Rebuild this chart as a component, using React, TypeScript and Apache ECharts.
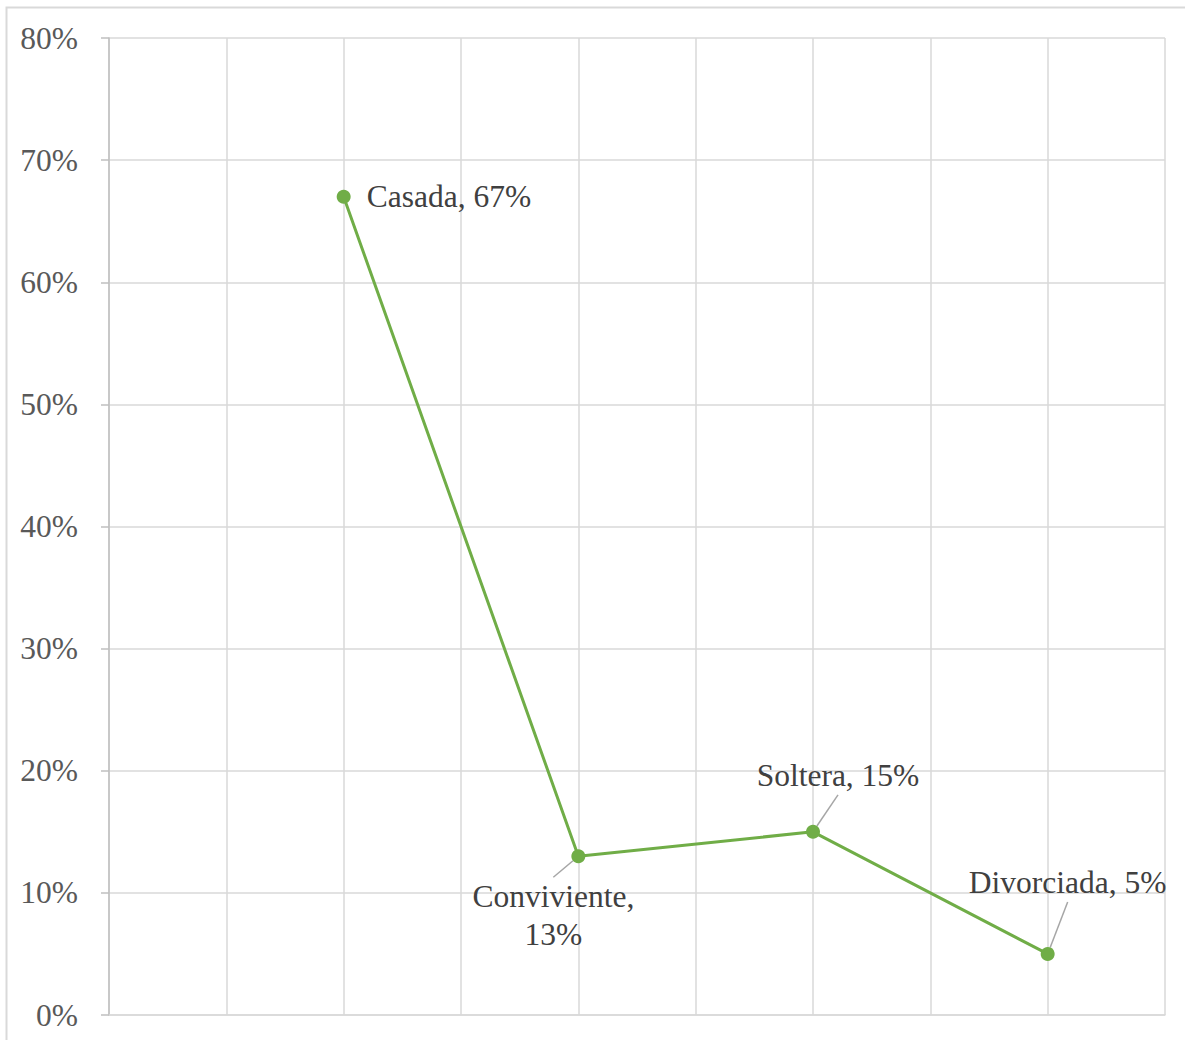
import React, { useEffect, useRef } from "react";
import * as echarts from "echarts";

// Estado civil: share of respondents per category
const categories = ["Casada", "Conviviente", "Soltera", "Divorciada"];
const percentages = [67, 13, 15, 5];
// Horizontal slot each category sits on (the x axis runs 0..9 with no labels)
const slots = [2, 4, 6, 8];
const yTicks = [0, 10, 20, 30, 40, 50, 60, 70, 80];

// Label offsets for each point (relative to the marker)
const labelShift = [
  { dx: 0, dy: 0 },
  { dx: -25, dy: 59 },
  { dx: 25, dy: -56 },
  { dx: 20, dy: -71 },
];

const GREEN = "#70ad47";
const GRID = "#d9d9d9";
const FONT = "Liberation Serif";
const FONT_SIZE = 31.5;

export default function App() {
  const ref = useRef<HTMLDivElement>(null);

  useEffect(() => {
    document.body.style.margin = "0";
    const chart = echarts.init(ref.current!, null, { renderer: "svg" });

    const data = categories.map((name, i) => ({
      name,
      value: [slots[i], percentages[i]],
      label:
        i === 0
          ? { position: "right", distance: 16, align: "left" }
          : { position: "inside", align: "center" },
      labelLine: { show: i !== 0 },
    }));

    chart.setOption({
      animation: false,
      backgroundColor: "#ffffff",
      graphic: [
        {
          type: "rect",
          shape: { x: 6.5, y: 7.5, width: 1200, height: 1060 },
          style: { fill: "none", stroke: GRID, lineWidth: 2 },
          silent: true,
        },
      ],
      grid: { left: 109, top: 38, right: 20, bottom: 25, containLabel: false },
      xAxis: {
        type: "value",
        min: 0,
        max: 9,
        interval: 1,
        axisLabel: { show: false },
        axisTick: { show: false },
        axisLine: { show: true, lineStyle: { color: GRID, width: 1.5 } },
        splitLine: { show: true, lineStyle: { color: GRID, width: 1.5 } },
      },
      yAxis: {
        type: "value",
        min: yTicks[0],
        max: yTicks[yTicks.length - 1],
        interval: 10,
        axisLine: { show: true, lineStyle: { color: "#bfbfbf", width: 1.5 } },
        axisTick: { show: true, length: 8, lineStyle: { color: "#bfbfbf", width: 1.5 } },
        axisLabel: {
          formatter: "{value}%",
          color: "#595959",
          fontFamily: FONT,
          fontSize: FONT_SIZE,
          margin: 31,
        },
        splitLine: { show: true, lineStyle: { color: GRID, width: 1.5 } },
      },
      series: [
        {
          type: "line",
          data,
          symbol: "circle",
          symbolSize: 14,
          itemStyle: { color: GREEN },
          lineStyle: { color: GREEN, width: 3 },
          label: {
            show: true,
            color: "#404040",
            fontFamily: FONT,
            fontSize: FONT_SIZE,
            lineHeight: 38,
            formatter: (p: any) => {
              const name = p.name;
              const v = p.value[1];
              return name === "Conviviente" ? `${name},\n${v}%` : `${name}, ${v}%`;
            },
          },
          labelLine: {
            show: true,
            lineStyle: { color: "#a6a6a6", width: 1.5 },
          },
          labelLayout: (params: any) => {
            if (params.dataIndex === 0) return {};
            const s = labelShift[params.dataIndex];
            return { dx: s.dx, dy: s.dy };
          },
        },
      ],
    });

    return () => chart.dispose();
  }, []);

  return <div ref={ref} style={{ width: 1185, height: 1040 }} />;
}
